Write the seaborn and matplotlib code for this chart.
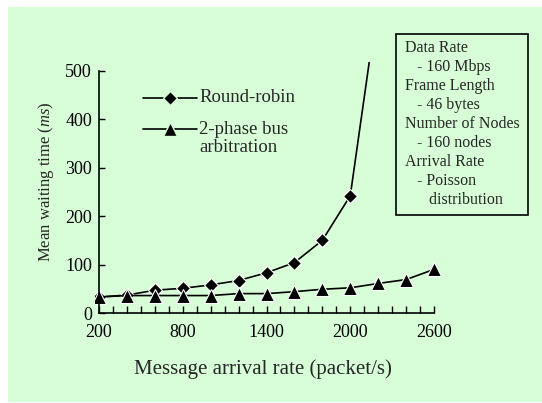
import numpy as np
import pandas as pd
import matplotlib.pyplot as plt
import seaborn as sns
from matplotlib.lines import Line2D
from matplotlib.patches import Rectangle
from matplotlib.ticker import MultipleLocator

# data
rate_rr = [200, 400, 600, 800, 1000, 1200, 1400, 1600, 1800, 2000, 2200]
wait_rr = [33, 37, 47, 51, 58, 67, 83, 104, 150, 242, 648]
rate_2p = [200, 400, 600, 800, 1000, 1200, 1400, 1600, 1800, 2000, 2200, 2400, 2600]
wait_2p = [33, 36, 36, 36, 36, 40, 40, 44, 49, 52, 61, 69, 90]

series_names = ["Round-robin", "2-phase bus\narbitration"]
xticks = [200, 800, 1400, 2000, 2600]
yticks = [0, 100, 200, 300, 400, 500]
box_lines = ["Data Rate", "   - 160 Mbps", "Frame Length", "   - 46 bytes",
             "Number of Nodes", "   - 160 nodes", "Arrival Rate", "   - Poisson",
             "      distribution"]

df = pd.concat([
    pd.DataFrame({"rate": rate_rr, "wait": wait_rr, "scheme": series_names[0]}),
    pd.DataFrame({"rate": rate_2p, "wait": wait_2p, "scheme": series_names[1]}),
])

sns.set_style("ticks")
plt.rcParams["font.family"] = ["Liberation Serif", "DejaVu Serif"]
plt.rcParams["mathtext.fontset"] = "custom"
plt.rcParams["mathtext.it"] = "Liberation Serif:italic"

W, H = 542, 403
bg = "#d8fed8"
fig = plt.figure(figsize=(W / 100, H / 100), dpi=100)
fig.patch.set_facecolor("white")
fig.patches.append(Rectangle((8 / W, 1 / H), 1 - 8 / W, 1 - 8 / H,
                             transform=fig.transFigure, facecolor=bg,
                             edgecolor="none", zorder=-10))

ax = fig.add_axes([0.1749, 0.2137, 0.6362, 0.6325])
ax.set_facecolor("none")

sns.lineplot(data=df, x="rate", y="wait", style="scheme",
             markers={series_names[0]: "D", series_names[1]: "^"},
             dashes=False, color="black", linewidth=1.2, markersize=8,
             markeredgecolor="white", markeredgewidth=0.8,
             legend=False, ax=ax, sort=False, estimator=None)
for ln, ms in zip(ax.lines, [7, 9.5]):
    ln.set_markersize(ms)

ax.set_xlim(170, 2640)
ax.set_ylim(-8, 518)
ax.spines["left"].set_position(("data", 200))
ax.spines["bottom"].set_position(("data", 0))
ax.spines["left"].set_bounds(0, 500)
ax.spines["bottom"].set_bounds(200, 2600)
ax.spines["top"].set_visible(False)
ax.spines["right"].set_visible(False)
for s in ["left", "bottom"]:
    ax.spines[s].set_linewidth(1.2)
    ax.spines[s].set_color("black")

ax.set_xticks(xticks)
ax.xaxis.set_minor_locator(MultipleLocator(100))
ax.set_yticks(yticks)
ax.tick_params(axis="x", which="both", direction="in", length=5, width=1,
               pad=8, labelsize=13, colors="black")
ax.tick_params(axis="y", direction="in", length=4, width=1, pad=5,
               labelsize=13, colors="black")
ax.set_xlabel("")
ax.set_ylabel("")

fig.text(263 / W, 1 - 369 / H, "Message arrival rate (packet/s)",
         fontsize=15, ha="center", va="center")
fig.text(46 / W, 1 - 182 / H, r"Mean waiting time ($\mathit{ms}$)",
         fontsize=12, rotation=90, ha="center", va="center")

# legend drawn by hand so the handle sits on the first text line
for (yy, mk, ms), name in zip([(98, "D", 7), (129, "^", 9.5)], series_names):
    y = 1 - yy / H
    fig.lines.append(Line2D([143 / W, 170 / W, 197 / W], [y, y, y],
                            transform=fig.transFigure, color="black", lw=1.2,
                            marker=mk, markevery=[1], markersize=ms,
                            markerfacecolor="black", markeredgecolor=bg))
    fig.text(199 / W, y, name.split("\n")[0], fontsize=13.5, ha="left", va="center")
fig.text(199 / W, 1 - 147 / H, series_names[1].split("\n")[1], fontsize=13.5,
         ha="left", va="center")

# parameter box
fig.patches.append(Rectangle((396 / W, 1 - 215 / H), 132 / W, 181 / H,
                             transform=fig.transFigure, facecolor="none",
                             edgecolor="black", lw=1.2))
for i, t in enumerate(box_lines):
    fig.text(405 / W, 1 - (48 + 19 * i) / H, t, fontsize=11.5,
             ha="left", va="center")

fig.savefig("out.png", dpi=100)
